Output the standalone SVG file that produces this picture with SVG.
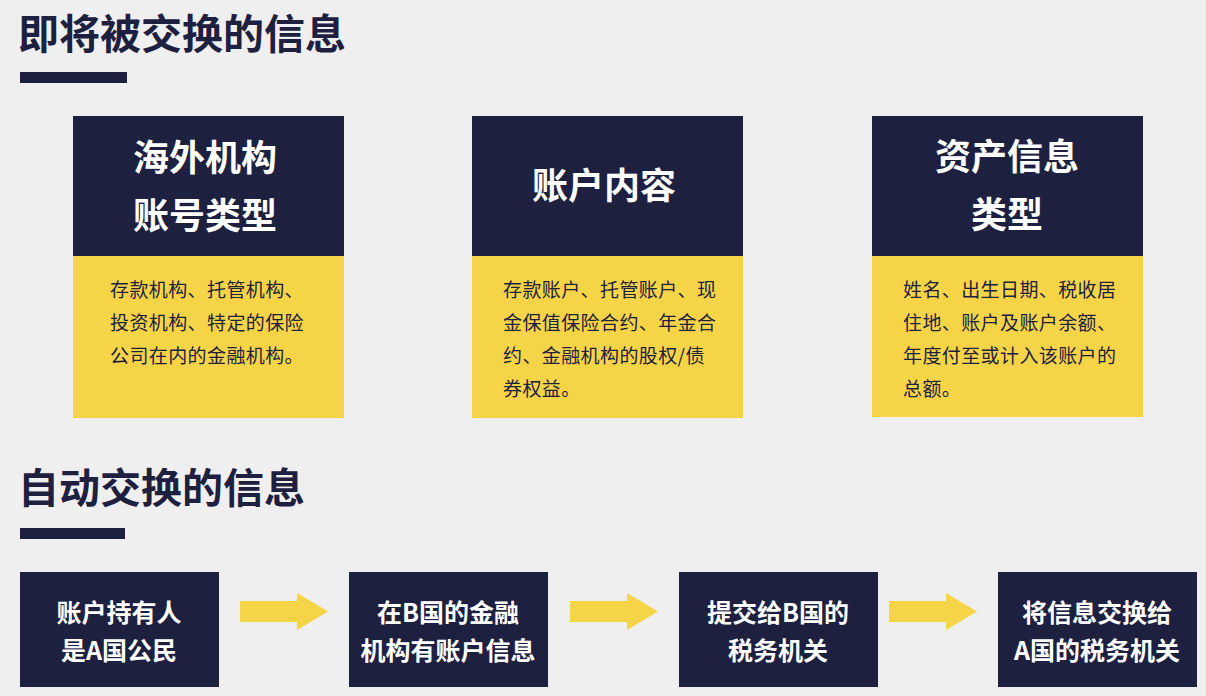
<svg xmlns="http://www.w3.org/2000/svg" width="1206" height="696" viewBox="0 0 1206 696">
<style>
text{font-family:"Noto Sans CJK SC","Noto Sans",sans-serif}
.h1{font-size:41px;font-weight:700;fill:#1e2040}
.bar{fill:#1e2040}
.dark{fill:#1e2040}
.yel{fill:#f5d547}
.head{font-size:36px;font-weight:700;fill:#ffffff;text-anchor:middle}
.body{font-size:19px;fill:#1e2040;letter-spacing:0.4px}
.step{font-size:25px;font-weight:700;fill:#ffffff;text-anchor:middle}
.arr{fill:#f5d547}
</style>
<rect width="1206" height="696" fill="#efefef"/>
<g id="title1">
<text class="h1" x="18" y="49">即将被交换的信息</text>
<rect class="bar" x="20" y="72" width="107" height="11"/>
</g>
<g id="card1">
<rect class="dark" x="73" y="116" width="271" height="140"/>
<rect class="yel" x="73" y="256" width="271" height="162"/>
<text class="head" x="205" y="171">海外机构</text>
<text class="head" x="205" y="229">账号类型</text>
<text class="body" x="110" y="297">存款机构、托管机构、</text>
<text class="body" x="110" y="330">投资机构、特定的保险</text>
<text class="body" x="110" y="363">公司在内的金融机构。</text>
</g>
<g id="card2">
<rect class="dark" x="472" y="116" width="271" height="140"/>
<rect class="yel" x="472" y="256" width="271" height="162"/>
<text class="head" x="604" y="199">账户内容</text>
<text class="body" x="503" y="297">存款账户、托管账户、现</text>
<text class="body" x="503" y="330">金保值保险合约、年金合</text>
<text class="body" x="503" y="363">约、金融机构的股权/债</text>
<text class="body" x="503" y="396">券权益。</text>
</g>
<g id="card3">
<rect class="dark" x="872" y="116" width="271" height="140"/>
<rect class="yel" x="872" y="256" width="271" height="161"/>
<text class="head" x="1007" y="170">资产信息</text>
<text class="head" x="1007" y="228">类型</text>
<text class="body" x="903" y="297">姓名、出生日期、税收居</text>
<text class="body" x="903" y="330">住地、账户及账户余额、</text>
<text class="body" x="903" y="363">年度付至或计入该账户的</text>
<text class="body" x="903" y="396">总额。</text>
</g>
<g id="title2">
<text class="h1" x="18" y="503">自动交换的信息</text>
<rect class="bar" x="20" y="528" width="105" height="11"/>
</g>
<g id="step1">
<rect class="dark" x="20" y="572" width="199" height="115"/>
<text class="step" x="119" y="622">账户持有人</text>
<text class="step" x="119" y="660">是A国公民</text>
</g>
<g id="step2">
<rect class="dark" x="349" y="572" width="199" height="115"/>
<text class="step" x="448" y="622">在B国的金融</text>
<text class="step" x="448" y="660">机构有账户信息</text>
</g>
<g id="step3">
<rect class="dark" x="679" y="572" width="199" height="115"/>
<text class="step" x="778" y="622">提交给B国的</text>
<text class="step" x="778" y="660">税务机关</text>
</g>
<g id="step4">
<rect class="dark" x="998" y="572" width="199" height="115"/>
<text class="step" x="1097" y="622">将信息交换给</text>
<text class="step" x="1097" y="660">A国的税务机关</text>
</g>
<g id="connectors">
<polygon class="arr" points="240,601 297,601 297,593 328,611.5 297,630 297,622 240,622"/>
<polygon class="arr" points="570,601 627,601 627,593 658,611.5 627,630 627,622 570,622"/>
<polygon class="arr" points="889,601 946,601 946,593 977,611.5 946,630 946,622 889,622"/>
</g>
</svg>
